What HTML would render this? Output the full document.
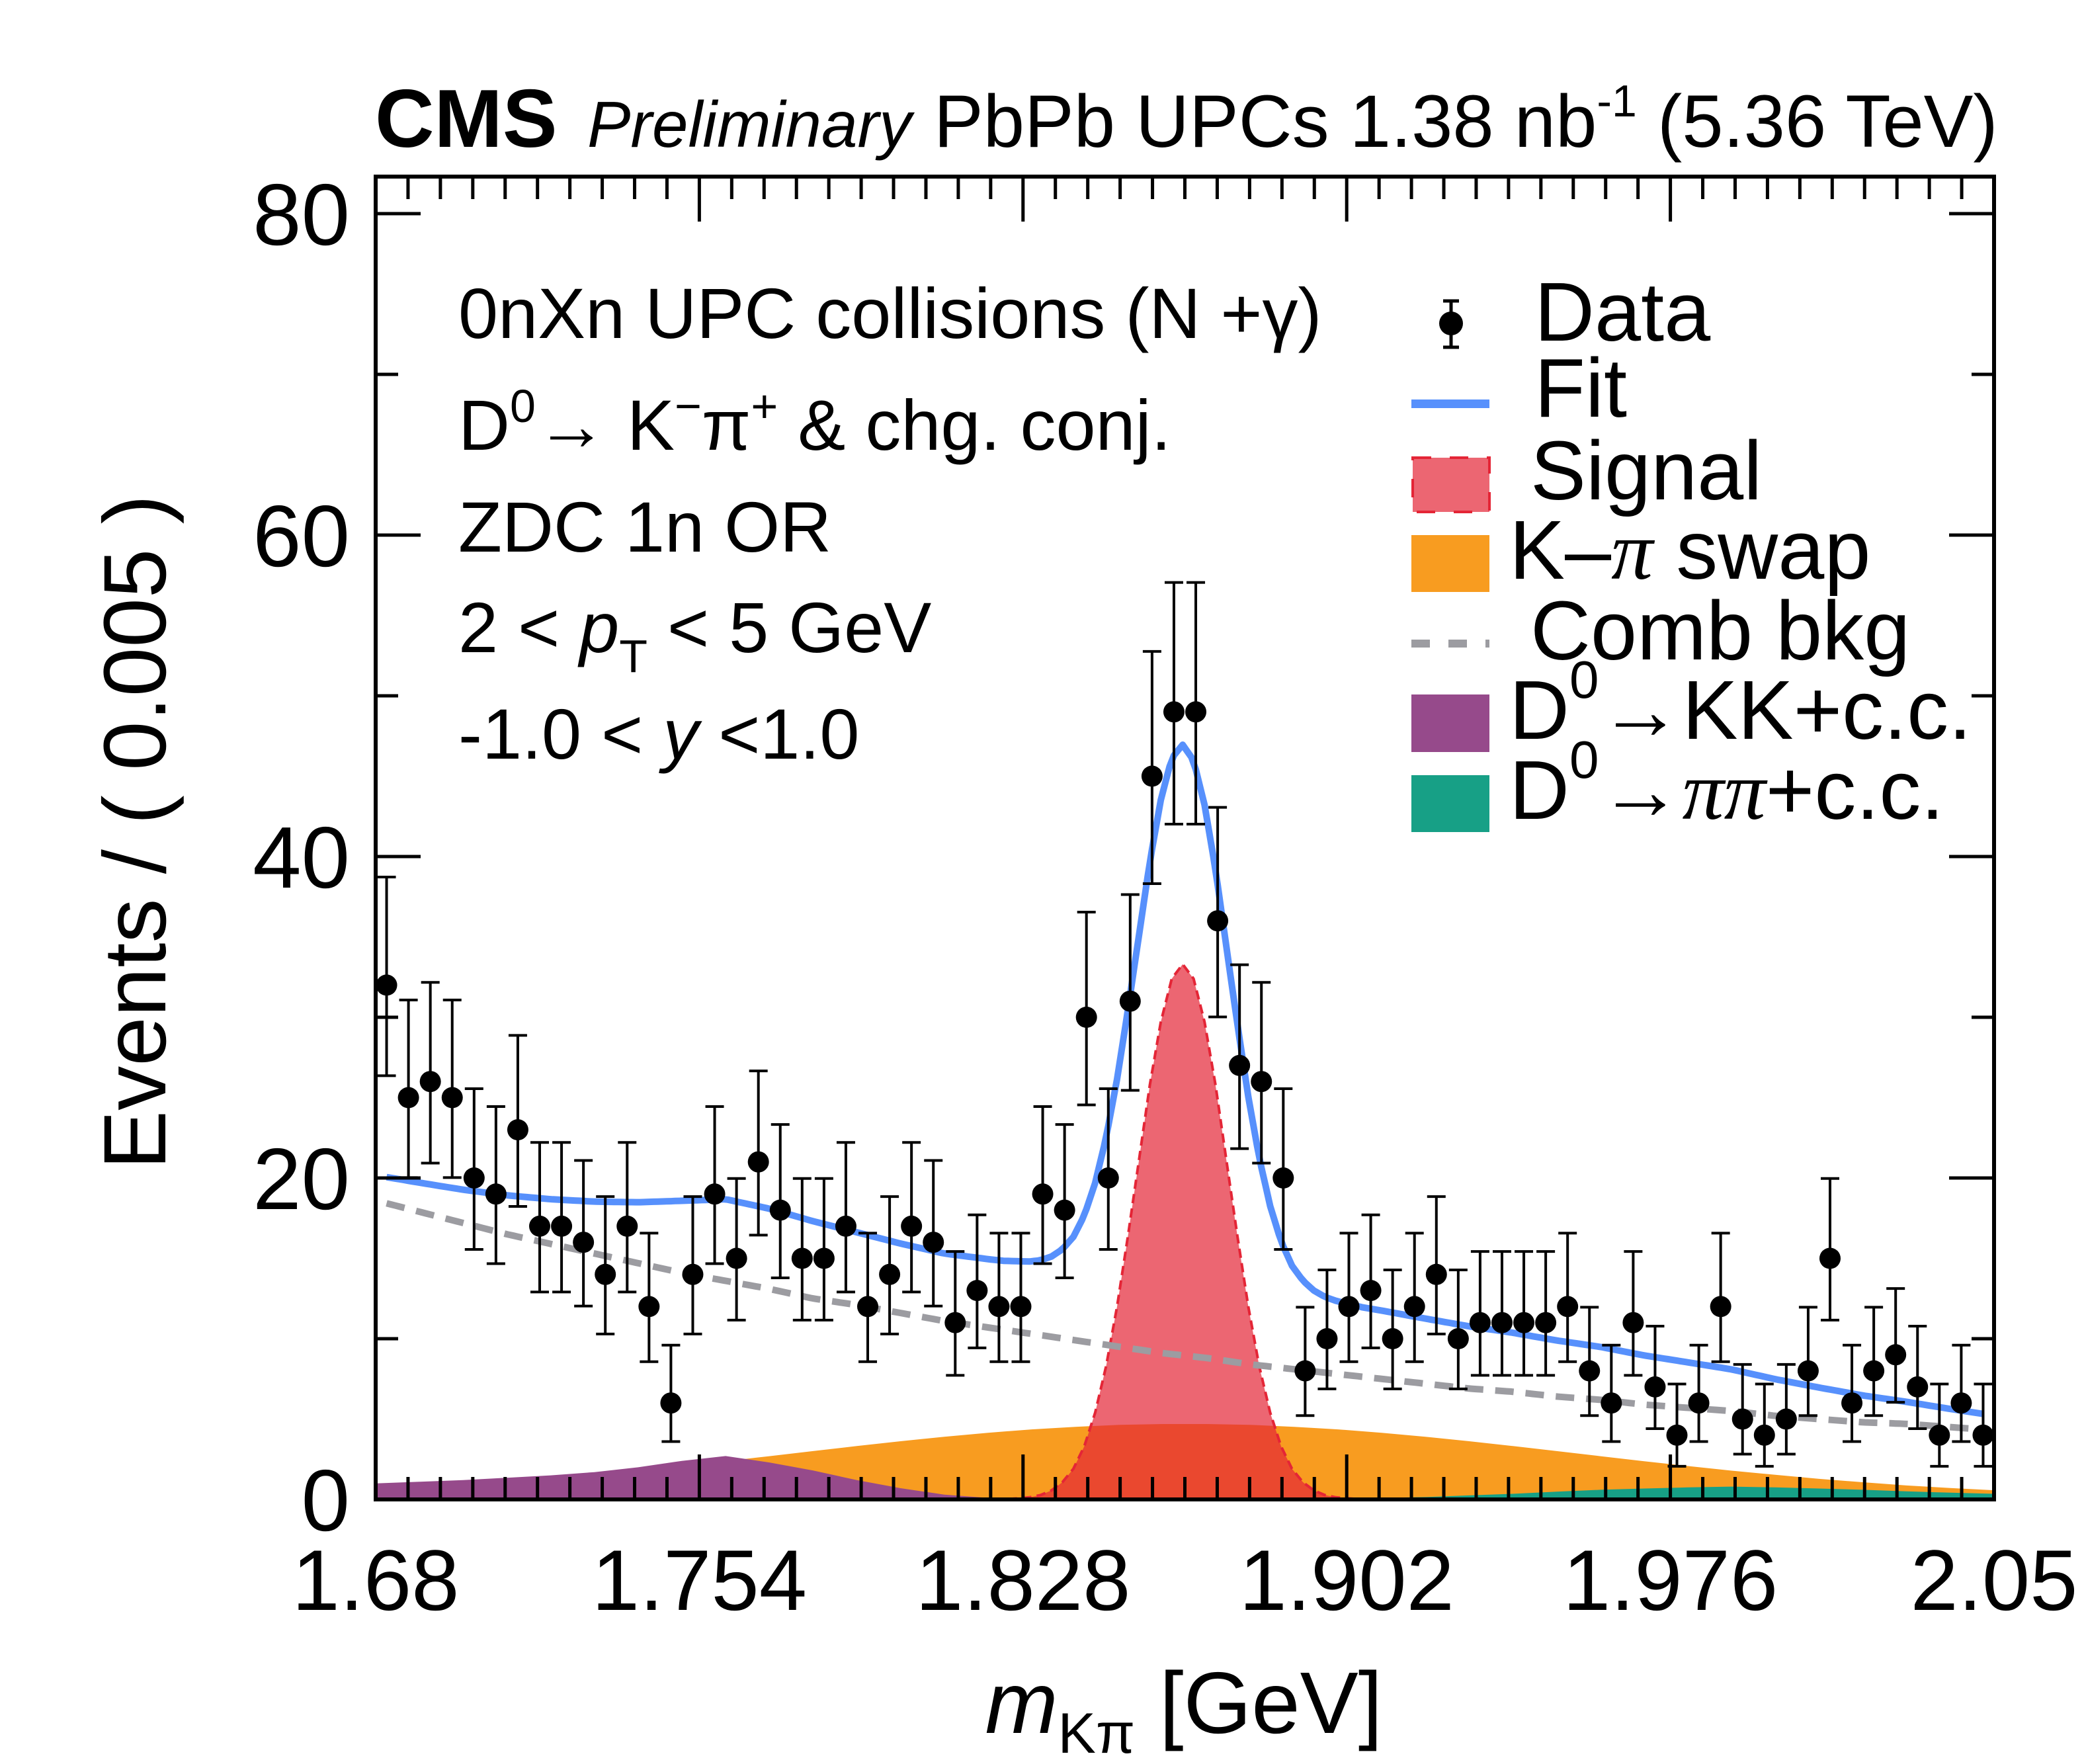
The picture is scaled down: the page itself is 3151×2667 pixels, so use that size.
<!DOCTYPE html>
<html><head><meta charset="utf-8"><style>
html,body{margin:0;padding:0;background:#fff}
svg{display:block}
text{font-family:"Liberation Sans",sans-serif;fill:#000}
</style></head><body>
<svg id="chart" width="3151" height="2667" viewBox="0 0 3151 2667" xmlns="http://www.w3.org/2000/svg">
<g id="fills"></g>
<g id="lines"></g>
<g id="points"></g>
<g id="axes"></g>
<text x="567" y="222" font-size="124" font-weight="bold">CMS</text>
<text x="888" y="222" font-size="98" font-style="italic">Preliminary</text>
<text x="1412" y="222" font-size="112">PbPb UPCs 1.38 nb<tspan font-size="68" dy="-46">-1</tspan><tspan dy="46"> (5.36 TeV)</tspan></text>
<g font-size="108">
<text x="693" y="511">0nXn UPC collisions (N +γ)</text>
<text x="693" y="680">D<tspan font-size="70" dy="-42">0</tspan><tspan dy="42">→ K</tspan><tspan font-size="70" dy="-42">−</tspan><tspan dy="42">π</tspan><tspan font-size="70" dy="-42">+</tspan><tspan dy="42"> &amp; chg. conj.</tspan></text>
<text x="693" y="834">ZDC 1n OR</text>
<text x="693" y="986">2 &lt; <tspan font-style="italic">p</tspan><tspan font-size="70" dy="30">T</tspan><tspan dy="-30"> &lt; 5 GeV</tspan></text>
<text x="693" y="1147">-1.0 &lt; <tspan font-style="italic">y</tspan> &lt;1.0</text>
</g>
<g>
<g><line x1="2194" y1="455" x2="2194" y2="525" stroke="#000" stroke-width="5"/><line x1="2182" y1="455" x2="2206" y2="455" stroke="#000" stroke-width="5"/><line x1="2182" y1="525" x2="2206" y2="525" stroke="#000" stroke-width="5"/><circle cx="2194" cy="489" r="18"/><text x="2320" y="515" font-size="126">Data</text></g>
<g><rect x="2134" y="604" width="118" height="13" fill="#5790fc"/><text x="2320" y="630" font-size="126">Fit</text></g>
<g><rect x="2136" y="692" width="116" height="82" fill="#ec6672" stroke="#e42536" stroke-width="4" stroke-dasharray="28,28"/><text x="2314" y="755" font-size="126">Signal</text></g>
<g><rect x="2134" y="809" width="118" height="86" fill="#f89c20"/><text x="2282" y="875" font-size="126">K–<tspan font-family="Liberation Serif" font-style="italic">π</tspan> swap</text></g>
<g><line x1="2134" y1="973" x2="2252" y2="973" stroke="#9c9ca1" stroke-width="12" stroke-dasharray="28,28"/><text x="2314" y="997" font-size="126">Comb bkg</text></g>
<g><rect x="2134" y="1050" width="118" height="87" fill="#964a8b"/><text x="2282" y="1117" font-size="126">D<tspan font-size="80" dy="-62">0</tspan><tspan dy="62">→KK+c.c.</tspan></text></g>
<g><rect x="2134" y="1172" width="118" height="86" fill="#17a086"/><text x="2282" y="1238" font-size="126">D<tspan font-size="80" dy="-62">0</tspan><tspan dy="62">→</tspan><tspan font-family="Liberation Serif" font-style="italic">ππ</tspan>+c.c.</text></g>
</g>
<text x="1790" y="2620" font-size="132" text-anchor="middle"><tspan font-style="italic">m</tspan><tspan font-size="86" dy="30">Kπ</tspan><tspan dy="-30"> [GeV]</tspan></text>
<text transform="translate(250,1258) rotate(-90)" font-size="134" text-anchor="middle">Events / ( 0.005 )</text>
</svg>
<script>
const binCenters = [1.6825,1.6875,1.6925,1.6975,1.7025,1.7075,1.7125,1.7175,1.7225,1.7275,1.7325,1.7375,1.7425,1.7475,1.7525,1.7575,1.7625,1.7675,1.7725,1.7775,1.7825,1.7875,1.7925,1.7975,1.8025,1.8075,1.8125,1.8175,1.8225,1.8275,1.8325,1.8375,1.8425,1.8475,1.8525,1.8575,1.8625,1.8675,1.8725,1.8775,1.8825,1.8875,1.8925,1.8975,1.9025,1.9075,1.9125,1.9175,1.9225,1.9275,1.9325,1.9375,1.9425,1.9475,1.9525,1.9575,1.9625,1.9675,1.9725,1.9775,1.9825,1.9875,1.9925,1.9975,2.0025,2.0075,2.0125,2.0175,2.0225,2.0275,2.0325,2.0375,2.0425,2.0475];
const dataCounts = [32,25,26,25,20,19,23,17,17,16,14,17,12,6,14,19,15,21,18,15,15,17,12,14,17,16,11,13,12,12,19,18,30,20,31,45,49,49,36,27,26,20,8,10,12,13,10,12,14,10,11,11,11,11,12,8,6,11,7,4,6,12,5,4,5,8,15,6,8,9,7,4,6,4];
const bkgX = [1.68,1.69,1.70,1.71,1.72,1.73,1.74,1.75,1.76,1.77,1.78,1.79,1.80,1.81,1.82,1.83,1.84,1.85,1.86,1.87,1.88,1.89,1.90,1.91,1.92,1.93,1.94,1.95,1.96,1.97,1.98,1.99,2.00,2.01,2.02,2.03,2.04,2.05];
const combBkg = [18.6,17.9,17.2,16.5,15.9,15.3,14.7,14.1,13.6,13.1,12.5,12.1,11.6,11.1,10.7,10.3,9.9,9.5,9.1,8.8,8.4,8.1,7.8,7.5,7.2,6.9,6.7,6.4,6.2,5.9,5.7,5.5,5.2,5.0,4.8,4.7,4.5,4.3];
const swapBkg = [0.57,0.71,0.87,1.07,1.28,1.53,1.79,2.08,2.38,2.69,3.01,3.32,3.62,3.90,4.15,4.36,4.52,4.64,4.69,4.69,4.64,4.52,4.36,4.15,3.90,3.62,3.32,3.01,2.69,2.38,2.08,1.79,1.53,1.28,1.07,0.87,0.71,0.57];
const kkBkg = [1.0,1.1,1.2,1.35,1.5,1.7,2.0,2.4,2.7,2.3,1.8,1.2,0.7,0.3,0.1,0,0,0,0,0,0,0,0,0,0,0,0,0,0,0,0,0,0,0,0,0,0,0];
const pipiBkg = [0,0,0,0,0,0,0,0,0,0,0,0,0,0,0,0,0,0,0,0,0,0,0.05,0.1,0.15,0.25,0.35,0.48,0.6,0.68,0.75,0.8,0.75,0.68,0.6,0.5,0.42,0.35];
const sigX = [1.8245,1.827,1.8295,1.832,1.8345,1.837,1.8395,1.842,1.8445,1.847,1.8495,1.852,1.8545,1.857,1.8595,1.862,1.8645,1.867,1.8695,1.872,1.8745,1.877,1.8795,1.882,1.8845,1.887,1.8895,1.892,1.8945,1.897,1.8995,1.902,1.9045];
const signal = [0.02,0.07,0.13,0.27,0.56,1.07,1.9,3.3,5.4,8.3,12.0,16.4,21.1,25.8,29.7,32.4,33.3,32.4,29.7,25.8,21.1,16.4,12.0,8.3,5.4,3.3,1.9,1.07,0.56,0.27,0.13,0.07,0.02];
const xTickLabels = ["1.68","1.754","1.828","1.902","1.976","2.05"];
const yTickLabels = ["0","20","40","60","80"];

const L=568,R=3015,T=267,B=2267,XMIN=1.68,XMAX=2.05,YPER=24.3;
const X=v=>L+(v-XMIN)/(XMAX-XMIN)*(R-L);
const Y=v=>B-v*YPER;
const NS="http://www.w3.org/2000/svg";
function mk(tag,parent){const e=document.createElementNS(NS,tag);document.getElementById(parent).appendChild(e);return e;}
function interp(xs,ys,x){if(x<=xs[0])return x<xs[0]?0:ys[0];if(x>=xs[xs.length-1])return x>xs[xs.length-1]?0:ys[ys.length-1];for(let i=0;i<xs.length-1;i++){if(x>=xs[i]&&x<=xs[i+1]){const t=(x-xs[i])/(xs[i+1]-xs[i]);return ys[i]+t*(ys[i+1]-ys[i]);}}return 0;}
function areaPath(xs,ys){let d="M"+X(xs[0])+","+B;xs.forEach((x,i)=>{d+=" L"+X(x).toFixed(1)+","+Y(ys[i]).toFixed(1);});d+=" L"+X(xs[xs.length-1])+","+B+" Z";return d;}
function linePath(xs,ys){return xs.map((x,i)=>(i?"L":"M")+X(x).toFixed(1)+","+Y(ys[i]).toFixed(1)).join(" ");}

let p=mk("path","fills");p.setAttribute("d",areaPath(bkgX,swapBkg));p.setAttribute("fill","#f89c20");


p=mk("path","fills");p.setAttribute("d",areaPath(bkgX,kkBkg));p.setAttribute("fill","#964a8b");


p=mk("path","fills");p.setAttribute("d",areaPath(sigX,signal));p.setAttribute("fill","#e42536");p.setAttribute("fill-opacity","0.7");


p=mk("path","fills");p.setAttribute("d",linePath(sigX,signal));p.setAttribute("fill","none");p.setAttribute("stroke","#e42536");p.setAttribute("stroke-width","4");p.setAttribute("stroke-dasharray","14,8");


p=mk("path","fills");p.setAttribute("d",areaPath(bkgX,pipiBkg));p.setAttribute("fill","#17a086");



const fx0=binCenters[0],fx1=binCenters[binCenters.length-1];
const grid=[];for(let x=fx0;x<=fx1+1e-9;x+=0.001)grid.push(+x.toFixed(4));
const combG=grid.map(x=>interp(bkgX,combBkg,x));
p=mk("path","lines");p.setAttribute("d",linePath(grid,combG));p.setAttribute("fill","none");p.setAttribute("stroke","#9c9ca1");p.setAttribute("stroke-width","10");p.setAttribute("stroke-dasharray","28,18");


const fitG=grid.map(x=>interp(bkgX,combBkg,x)+interp(bkgX,swapBkg,x)+interp(bkgX,kkBkg,x)+interp(bkgX,pipiBkg,x)+interp(sigX,signal,x));
p=mk("path","lines");p.setAttribute("d",linePath(grid,fitG));p.setAttribute("fill","none");p.setAttribute("stroke","#5790fc");p.setAttribute("stroke-width","10");p.setAttribute("stroke-linejoin","round");



binCenters.forEach((x,i)=>{const n=dataCounts[i];const up=Math.sqrt(n+0.75)+1,lo=n>0?Math.sqrt(n-0.25):0;
 const g=mk("g","points");
 
 
 const cx=X(x),y1=Y(n+up),y2=Y(n-lo);
 g.innerHTML=`<line x1="${cx}" y1="${y1}" x2="${cx}" y2="${y2}" stroke="#000" stroke-width="4"/><line x1="${cx-14}" y1="${y1}" x2="${cx+14}" y2="${y1}" stroke="#000" stroke-width="4"/><line x1="${cx-14}" y1="${y2}" x2="${cx+14}" y2="${y2}" stroke="#000" stroke-width="4"/><circle cx="${cx}" cy="${Y(n)}" r="16" fill="#000"/>`;
});

const ax=document.getElementById("axes");
let s=`<rect x="${L}" y="${T}" width="${R-L}" height="${B-T}" fill="none" stroke="#000" stroke-width="6"/>`;
for(let k=0;k<=50;k++){const v=XMIN+k*0.0074;if(v>XMAX+1e-6)break;const x=X(v),len=(k%10===0)?68:34;s+=`<line x1="${x}" y1="${B}" x2="${x}" y2="${B-len}" stroke="#000" stroke-width="5"/><line x1="${x}" y1="${T}" x2="${x}" y2="${T+len}" stroke="#000" stroke-width="5"/>`;}
for(let v=0;v<=80;v+=10){const y=Y(v),len=(v%20===0)?68:34;s+=`<line x1="${L}" y1="${y}" x2="${L+len}" y2="${y}" stroke="#000" stroke-width="5"/><line x1="${R}" y1="${y}" x2="${R-len}" y2="${y}" stroke="#000" stroke-width="5"/>`;}
ax.innerHTML=s;
xTickLabels.forEach((t,i)=>{const e=mk("text","axes");e.setAttribute("x",X(+t));e.setAttribute("y",2434);e.setAttribute("font-size","130");e.setAttribute("text-anchor","middle");e.textContent=t;

});
yTickLabels.forEach((t,i)=>{const e=mk("text","axes");e.setAttribute("x",529);e.setAttribute("y",Y(+t)+47);e.setAttribute("font-size","132");e.setAttribute("text-anchor","end");e.textContent=t;

});
</script>
</body></html>
